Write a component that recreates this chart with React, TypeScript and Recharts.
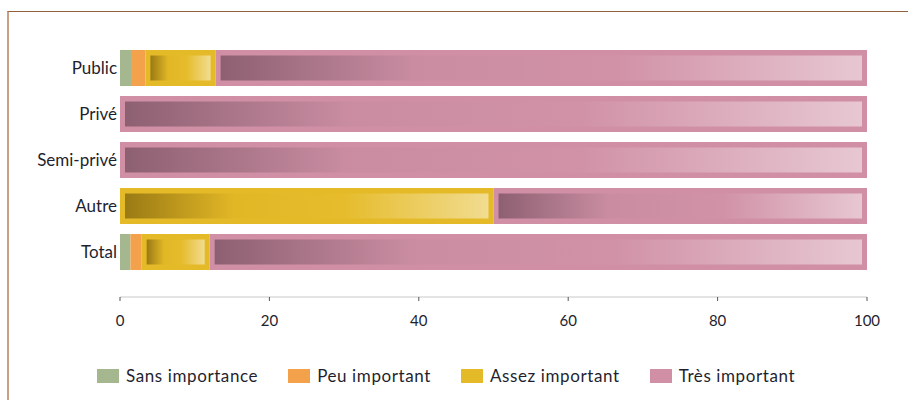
import { Bar, BarChart, XAxis, YAxis } from "recharts";

const categories = ["Public", "Privé", "Semi-privé", "Autre", "Total"];
const sansImportance = [1.6, 0, 0, 0, 1.4];
const peuImportant = [1.8, 0, 0, 0, 1.5];
const assezImportant = [9.4, 0, 0, 50, 9.1];
const tresImportant = [87.2, 100, 100, 50, 88];
const xTicks = [0, 20, 40, 60, 80, 100];

const SERIES = [
  { key: "sans", name: "Sans importance", color: "#a4b78f", values: sansImportance },
  { key: "peu", name: "Peu important", color: "#f3a14b", values: peuImportant },
  { key: "assez", name: "Assez important", color: "#e5ba28", values: assezImportant },
  { key: "tres", name: "Très important", color: "#d08fa5", values: tresImportant },
];

const data = categories.map((name, i) => {
  const row: Record<string, string | number> = { name };
  SERIES.forEach((s) => (row[s.key] = s.values[i]));
  return row;
});

const FONT = "Lato, 'Open Sans', sans-serif";

function segmentShape(key: string, color: string) {
  return (props: any) => {
    const { x, y, width, height } = props;
    if (!width || width <= 0) return <g />;
    const inset = 5;
    return (
      <g>
        <rect x={x} y={y} width={width} height={height} fill={color} />
        {width > inset * 3 && (
          <rect
            x={x + inset}
            y={y + inset + 0.5}
            width={width - inset * 2}
            height={height - inset * 2 - 1}
            fill={`url(#grad-${key})`}
          />
        )}
      </g>
    );
  };
}

export default function App() {
  return (
    <div style={{ position: "absolute", left: 0, top: 0, width: 908, height: 400, background: "#fff" }}>
      <div
        style={{
          position: "absolute",
          left: 7,
          top: 11,
          right: 0,
          bottom: 0,
          borderTop: "1px solid #93603f",
          borderLeft: "2px solid #c9a084",
        }}
      />
      <BarChart
        width={908}
        height={400}
        data={data}
        layout="vertical"
        barSize={36}
        margin={{ top: 45, right: 41, bottom: 73, left: 0 }}
        style={{ position: "absolute", left: 0, top: 0 }}
      >
        <defs>
          <linearGradient id="grad-tres" x1="0" y1="0" x2="1" y2="0">
            <stop offset="0" stopColor="#8d6071" />
            <stop offset="0.3" stopColor="#c98ca1" />
            <stop offset="0.62" stopColor="#d192a7" />
            <stop offset="1" stopColor="#e7c7d2" />
          </linearGradient>
          <linearGradient id="grad-assez" x1="0" y1="0" x2="1" y2="0">
            <stop offset="0" stopColor="#9a7a14" />
            <stop offset="0.3" stopColor="#e2b726" />
            <stop offset="0.6" stopColor="#e6bc2c" />
            <stop offset="1" stopColor="#f1dc90" />
          </linearGradient>
        </defs>
        <XAxis
          type="number"
          domain={[0, 100]}
          ticks={xTicks}
          interval={0}
          axisLine={{ stroke: "#c8c8c8" }}
          tickLine={{ stroke: "#555" }}
          tickSize={4}
          tickMargin={14}
          tick={{ fill: "#1f1f2f", fontSize: 15, fontFamily: FONT }}
          height={30}
        />
        <YAxis
          type="category"
          dataKey="name"
          width={120}
          axisLine={false}
          tickLine={false}
          tickSize={0}
          tickMargin={3}
          padding={{ top: 0, bottom: 22 }}
          tick={{ fill: "#1f1f2f", fontSize: 17, fontFamily: FONT }}
        />
        {SERIES.map((s) => (
          <Bar
            key={s.key}
            dataKey={s.key}
            name={s.name}
            stackId="a"
            fill={s.color}
            isAnimationActive={false}
            shape={segmentShape(s.key, s.color)}
          />
        ))}
      </BarChart>
      <div
        style={{
          position: "absolute",
          left: 97,
          top: 365,
          display: "flex",
          alignItems: "center",
          gap: 30,
          fontFamily: FONT,
          fontSize: 17,
          letterSpacing: 0.6,
          color: "#1f1f2f",
        }}
      >
        {SERIES.map((s) => (
          <div key={s.key} style={{ display: "flex", alignItems: "center" }}>
            <span style={{ display: "inline-block", width: 22, height: 14, background: s.color, marginRight: 7 }} />
            <span>{s.name}</span>
          </div>
        ))}
      </div>
    </div>
  );
}
